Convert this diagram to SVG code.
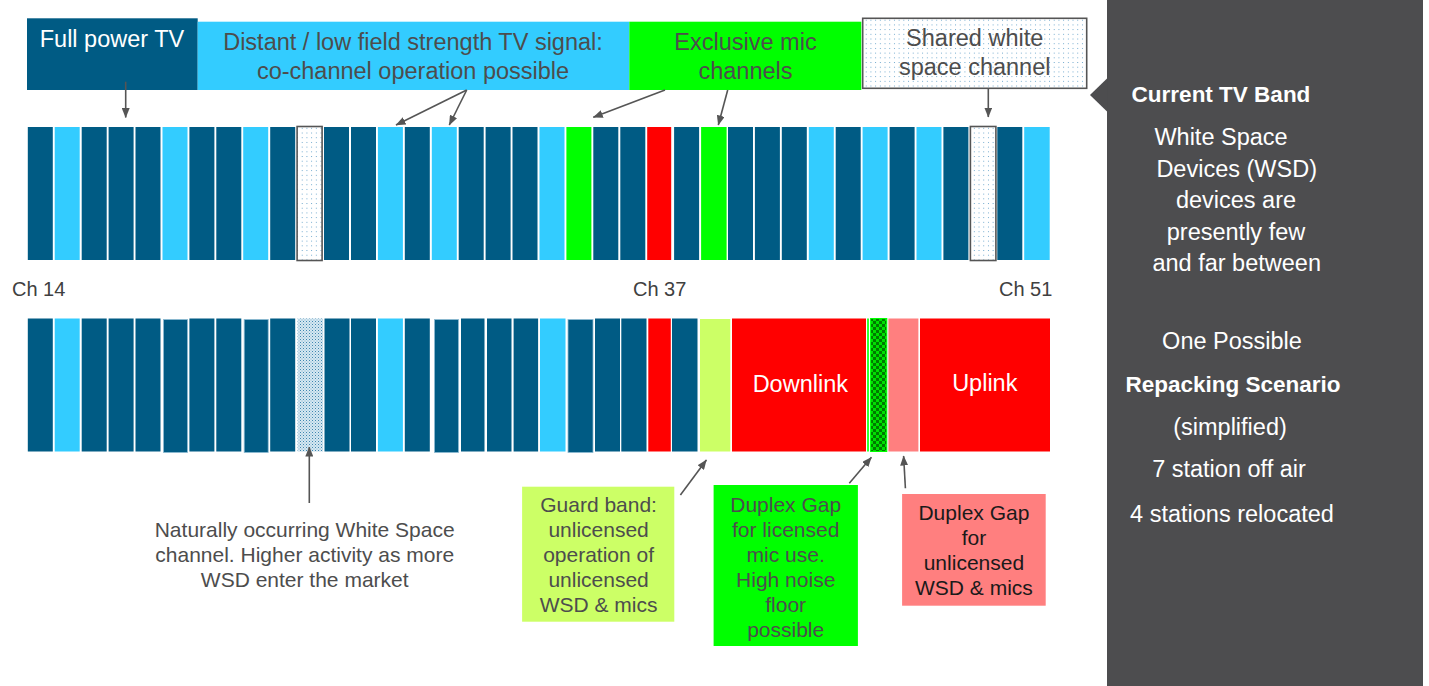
<svg xmlns="http://www.w3.org/2000/svg" width="1429" height="686" viewBox="0 0 1429 686">
<style>
text{font-family:"Liberation Sans",Arial,sans-serif;}
.lab{font-size:23.5px;fill:#4D4D4D;text-anchor:middle;}
.wl{font-size:23.5px;fill:#FFFFFF;text-anchor:middle;}
.wb{font-size:22.5px;fill:#FFFFFF;text-anchor:middle;font-weight:bold;}
.sm{font-size:21px;fill:#4D4D4D;text-anchor:middle;}
.ch{font-size:20px;fill:#404040;}
.d{fill:#005B84;}
.l{fill:#33CCFF;}
.g{fill:#00FF00;}
.r{fill:#FF0000;}
.dot{fill:url(#dots);stroke:#555555;stroke-width:1.6;}
.edge{stroke:#8DBBD3;stroke-width:0.8;}
.arr{stroke:#555555;stroke-width:1.6;fill:none;marker-end:url(#ah);}
</style>
<defs>
<marker id="ah" markerUnits="userSpaceOnUse" markerWidth="10" markerHeight="8" refX="9.5" refY="4" orient="auto">
<path d="M0,0 L10,4 L0,8 z" fill="#555555"/>
</marker>
<pattern id="dots" patternUnits="userSpaceOnUse" width="4.7" height="4.7">
<rect width="4.7" height="4.7" fill="#FFFFFF"/>
<rect x="1" y="1" width="0.9" height="0.9" fill="#5A9CC5"/>
</pattern>
<pattern id="dense" patternUnits="userSpaceOnUse" width="3" height="3">
<rect width="3" height="3" fill="#D6E8F1"/>
<rect x="0" y="0" width="1" height="1" fill="#3F86B0"/>
<rect x="1.5" y="1.5" width="1" height="1" fill="#7AAECD"/>
</pattern>
<pattern id="check" patternUnits="userSpaceOnUse" width="6" height="6">
<rect width="6" height="6" fill="#00E000"/>
<rect x="0" y="0" width="3" height="3" fill="#007A00"/>
<rect x="3" y="3" width="3" height="3" fill="#007A00"/>
</pattern>
</defs>
<rect width="1429" height="686" fill="#FFFFFF"/>

<g id="label-full-power">
<rect x="27" y="18.3" width="170.7" height="71.7" class="d"/>
<text x="112" y="47" class="wl">Full power TV</text>
</g>
<g id="label-distant">
<rect x="197.7" y="21.7" width="431.6" height="68.3" class="l"/>
<text x="413" y="50" class="lab">Distant / low field strength TV signal:</text>
<text x="413" y="78.5" class="lab">co-channel operation possible</text>
</g>
<g id="label-exclusive-mic">
<rect x="629.3" y="21.7" width="232" height="68.3" class="g"/>
<text x="745.5" y="50" class="lab">Exclusive mic</text>
<text x="745.5" y="78.5" class="lab">channels</text>
</g>
<g id="label-shared">
<rect x="862.7" y="18.3" width="224" height="70" class="dot"/>
<text x="974.7" y="46" class="lab">Shared white</text>
<text x="974.7" y="75" class="lab">space channel</text>
</g>

<g id="current-band">
<rect x="27.8" y="127" width="25" height="133" class="d"/>
<rect x="54.7" y="127" width="25" height="133" class="l"/>
<rect x="81.7" y="127" width="25" height="133" class="d"/>
<rect x="108.6" y="127" width="25" height="133" class="d"/>
<rect x="135.5" y="127" width="25" height="133" class="d"/>
<rect x="162.5" y="127" width="25" height="133" class="l"/>
<rect x="189.4" y="127" width="25" height="133" class="d"/>
<rect x="216.3" y="127" width="25" height="133" class="d"/>
<rect x="243.2" y="127" width="25" height="133" class="l"/>
<rect x="270.2" y="127" width="25" height="133" class="d"/>
<rect x="297.1" y="126.5" width="25" height="134" class="dot"/>
<rect x="324" y="127" width="25" height="133" class="d"/>
<rect x="351" y="127" width="25" height="133" class="d"/>
<rect x="377.9" y="127" width="25" height="133" class="l"/>
<rect x="404.8" y="127" width="25" height="133" class="d"/>
<rect x="431.8" y="127" width="25" height="133" class="l"/>
<rect x="458.7" y="127" width="25" height="133" class="d"/>
<rect x="485.6" y="127" width="25" height="133" class="d"/>
<rect x="512.5" y="127" width="25" height="133" class="d"/>
<rect x="539.5" y="127" width="25" height="133" class="l"/>
<rect x="566.4" y="127" width="25" height="133" class="g"/>
<rect x="593.3" y="127" width="25" height="133" class="d"/>
<rect x="620.3" y="127" width="25" height="133" class="d"/>
<rect x="647.2" y="127" width="24" height="133" class="r"/>
<rect x="674.1" y="127" width="25" height="133" class="d"/>
<rect x="701.1" y="127" width="25.5" height="133" class="g"/>
<rect x="728" y="127" width="25" height="133" class="d"/>
<rect x="754.9" y="127" width="25" height="133" class="d"/>
<rect x="781.8" y="127" width="25" height="133" class="d"/>
<rect x="808.8" y="127" width="25" height="133" class="l"/>
<rect x="835.7" y="127" width="25" height="133" class="d"/>
<rect x="862.6" y="127" width="25" height="133" class="l"/>
<rect x="889.6" y="127" width="25" height="133" class="d"/>
<rect x="916.5" y="127" width="25" height="133" class="l"/>
<rect x="943.4" y="127" width="25" height="133" class="d"/>
<rect x="970.4" y="126.5" width="25.5" height="134" class="dot"/>
<rect x="997.3" y="127" width="25" height="133" class="d"/>
<rect x="1024.2" y="127" width="25.5" height="133" class="l"/>
</g>

<g id="channel-labels">
<text x="12" y="296" class="ch">Ch 14</text>
<text x="633" y="296" class="ch">Ch 37</text>
<text x="999" y="296" class="ch">Ch 51</text>
</g>

<g id="repacked-band">
<rect x="27.8" y="318.5" width="25" height="133" class="d"/>
<rect x="54.7" y="318.5" width="25" height="133" class="l"/>
<rect x="81.7" y="318.5" width="25" height="133" class="d"/>
<rect x="108.6" y="318.5" width="25" height="133" class="d"/>
<rect x="135.5" y="318.5" width="25" height="133" class="d"/>
<rect x="163.5" y="319.5" width="24" height="133" class="d edge"/>
<rect x="189.4" y="318.5" width="25" height="133" class="d"/>
<rect x="216.3" y="318.5" width="25" height="133" class="d"/>
<rect x="244.2" y="319.5" width="24" height="133" class="d edge"/>
<rect x="270.2" y="318.5" width="25" height="133" class="d"/>
<rect x="297.6" y="318.5" width="25.5" height="133" fill="url(#dense)"/>
<rect x="324.5" y="318.5" width="25" height="133" class="d"/>
<rect x="351" y="318.5" width="25" height="133" class="d"/>
<rect x="377.9" y="318.5" width="25" height="133" class="l"/>
<rect x="404.8" y="318.5" width="25" height="133" class="d"/>
<rect x="434.5" y="319.5" width="24" height="133" class="d edge"/>
<rect x="461" y="318.5" width="23.5" height="133" class="d"/>
<rect x="487" y="318.5" width="24.5" height="133" class="d"/>
<rect x="513.6" y="318.5" width="24.5" height="133" class="d"/>
<rect x="540" y="318.5" width="25.5" height="133" class="l"/>
<rect x="568" y="319.5" width="25" height="133" class="d edge"/>
<rect x="595" y="318.5" width="25" height="133" class="d"/>
<rect x="621.3" y="318.5" width="25.2" height="133" class="d"/>
<rect x="648.3" y="318.5" width="22.5" height="133" class="r"/>
<rect x="672" y="318.5" width="25.5" height="133" class="d"/>
<rect x="700" y="319" width="30.3" height="132.5" fill="#CCFF66"/>
<rect x="732" y="318.5" width="134" height="133" class="r"/>
<rect x="867.2" y="318.5" width="1.6" height="133" class="g"/>
<rect x="870.6" y="318.5" width="16.2" height="133" fill="url(#check)" stroke="#00FF00" stroke-width="1"/>
<rect x="888.4" y="318.5" width="30" height="133" fill="#FF7F7F"/>
<rect x="920" y="318.5" width="130" height="133" class="r"/>
<text x="800.3" y="392" class="wl">Downlink</text>
<text x="984.8" y="391" class="wl">Uplink</text>
</g>

<g id="side-panel">
<rect x="1107" y="0" width="316" height="686" fill="#4D4D4F"/>
<path d="M1107.5,78 L1090,95 L1107.5,112 z" fill="#4D4D4F"/>
<text x="1221" y="102" class="wb">Current TV Band</text>
<text x="1221" y="145" class="wl">White Space</text>
<text x="1236.7" y="177" class="wl">Devices (WSD)</text>
<text x="1236" y="208" class="wl">devices are</text>
<text x="1236" y="240" class="wl">presently few</text>
<text x="1236.7" y="271" class="wl">and far between</text>
<text x="1232" y="348.5" class="wl">One Possible</text>
<text x="1233" y="391.5" class="wb">Repacking Scenario</text>
<text x="1230" y="435" class="wl">(simplified)</text>
<text x="1229" y="477" class="wl">7 station off air</text>
<text x="1232" y="521.5" class="wl">4 stations relocated</text>
</g>

<g id="note-white-space">
<text x="304.7" y="537" class="sm">Naturally occurring White Space</text>
<text x="304.7" y="562" class="sm">channel. Higher activity as more</text>
<text x="304.7" y="587" class="sm">WSD enter the market</text>
</g>
<g id="note-guard-band">
<rect x="522.1" y="486.7" width="152.2" height="135" fill="#CCFF66"/>
<text x="598.6" y="512" class="sm">Guard band:</text>
<text x="598.6" y="537" class="sm">unlicensed</text>
<text x="598.6" y="562" class="sm">operation of</text>
<text x="598.6" y="587" class="sm">unlicensed</text>
<text x="598.6" y="612" class="sm">WSD &amp; mics</text>
</g>
<g id="note-duplex-licensed">
<rect x="713.6" y="485" width="144.3" height="161" fill="#00FF00"/>
<text x="785.7" y="512" class="sm">Duplex Gap</text>
<text x="785.7" y="537" class="sm">for licensed</text>
<text x="785.7" y="562" class="sm">mic use.</text>
<text x="785.7" y="587" class="sm">High noise</text>
<text x="785.7" y="612" class="sm">floor</text>
<text x="785.7" y="637" class="sm">possible</text>
</g>
<g id="note-duplex-unlicensed">
<rect x="902.1" y="494" width="143.6" height="111.7" fill="#FF7F7F"/>
<text x="973.9" y="520" class="sm" style="fill:#1A1A1A">Duplex Gap</text>
<text x="973.9" y="545" class="sm" style="fill:#1A1A1A">for</text>
<text x="973.9" y="570" class="sm" style="fill:#1A1A1A">unlicensed</text>
<text x="973.9" y="595" class="sm" style="fill:#1A1A1A">WSD &amp; mics</text>
</g>

<g id="connectors">
<line x1="125.7" y1="81.7" x2="125.7" y2="117.5" class="arr"/>
<line x1="466.7" y1="90" x2="396" y2="125" class="arr"/>
<line x1="466.7" y1="90" x2="449.3" y2="125" class="arr"/>
<line x1="665" y1="90" x2="593.3" y2="117.3" class="arr"/>
<line x1="727.7" y1="90" x2="718.3" y2="125" class="arr"/>
<line x1="988.3" y1="89" x2="988.3" y2="117" class="arr"/>
<line x1="309.3" y1="503" x2="309.3" y2="447" class="arr"/>
<line x1="680.4" y1="495" x2="706.4" y2="460" class="arr"/>
<line x1="849.3" y1="483.3" x2="871.4" y2="457.3" class="arr"/>
<line x1="905.4" y1="488.3" x2="903.6" y2="456" class="arr"/>
</g>
</svg>
